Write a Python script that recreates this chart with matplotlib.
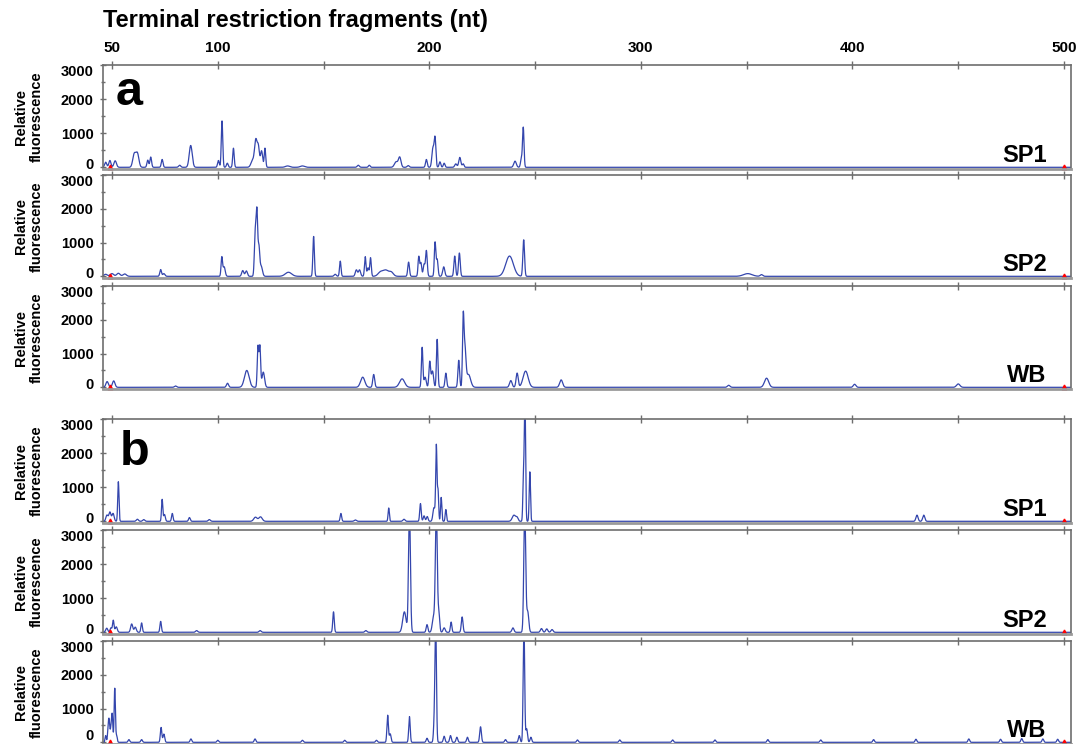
import numpy as np
import matplotlib
matplotlib.use('Agg')
import matplotlib.pyplot as plt
from matplotlib.ticker import MultipleLocator
from matplotlib.transforms import ScaledTranslation

plt.rcParams['font.family'] = ['Liberation Sans', 'DejaVu Sans']
plt.rcParams['font.weight'] = 'bold'

# peaks: position (nt), height (RFU), width (nt)
a_sp1_pos = [47.0, 49.0, 51.5, 60.5, 62.0, 66.9, 68.3, 73.7, 82.0, 87.2,
             100.3, 102.0, 104.5, 107.4, 116.5, 118.0, 119.2, 120.7, 122.3, 133.0,
             140.0, 166.4, 171.6, 184.3, 186.0, 190.0, 198.6, 201.7, 202.7, 205.0,
             207.0, 212.5, 214.4, 216.0, 240.5, 243.5, 244.4]
a_sp1_ht = [150, 200, 190, 380, 400, 210, 300, 230, 60, 640,
            200, 1360, 120, 560, 200, 780, 560, 480, 560, 40,
            40, 60, 60, 160, 290, 50, 230, 560, 830, 160,
            120, 100, 290, 100, 180, 250, 1160]
a_sp1_wd = [0.5, 0.5, 0.6, 0.7, 0.7, 0.4, 0.4, 0.4, 0.5, 0.7,
            0.4, 0.35, 0.4, 0.35, 0.8, 0.6, 0.5, 0.5, 0.35, 1.0,
            1.0, 0.5, 0.4, 0.8, 0.6, 0.5, 0.4, 0.5, 0.4, 0.4,
            0.4, 0.5, 0.5, 0.4, 0.6, 0.4, 0.35]

a_sp2_pos = [47.0, 50.0, 53.0, 56.0, 73.0, 74.5, 101.9, 103.0, 111.8, 113.5,
             117.7, 118.5, 119.4, 120.5, 133.4, 145.3, 155.5, 157.9, 165.5, 167.0,
             169.7, 171.0, 172.2, 177.0, 179.5, 182.0, 190.2, 195.0, 196.0, 197.5,
             198.6, 202.7, 203.7, 206.8, 212.0, 214.2, 237.9, 244.6, 350.5, 357.0]
a_sp2_ht = [60, 80, 90, 70, 200, 80, 560, 280, 170, 160,
            1300, 1800, 850, 300, 120, 1180, 60, 450, 190, 190,
            580, 250, 550, 130, 170, 120, 420, 580, 400, 350,
            760, 1000, 500, 280, 600, 690, 600, 1080, 80, 50]
a_sp2_wd = [0.8, 0.8, 0.8, 0.8, 0.4, 0.5, 0.35, 0.5, 0.5, 0.5,
            0.4, 0.35, 0.4, 0.6, 1.5, 0.35, 0.5, 0.35, 0.5, 0.5,
            0.35, 0.4, 0.35, 1.2, 1.2, 1.0, 0.4, 0.35, 0.4, 0.4,
            0.4, 0.35, 0.4, 0.5, 0.4, 0.4, 1.8, 0.4, 2.0, 0.6]

a_wb_pos = [47.7, 50.8, 80.0, 104.6, 113.7, 119.0, 119.9, 121.5, 168.5, 173.7,
            187.1, 196.6, 198.0, 200.2, 201.5, 203.7, 207.8, 213.9, 216.0, 216.8,
            218.5, 238.5, 241.5, 245.5, 262.3, 341.5, 359.4, 401.0, 450.0]
a_wb_ht = [170, 190, 40, 120, 500, 1200, 1200, 450, 300, 380,
           250, 1180, 300, 760, 480, 1420, 420, 800, 1900, 1100,
           380, 200, 420, 480, 220, 60, 270, 90, 100]
a_wb_wd = [0.6, 0.6, 0.5, 0.5, 1.1, 0.35, 0.35, 0.6, 1.0, 0.45,
           1.2, 0.35, 0.5, 0.4, 0.5, 0.35, 0.4, 0.4, 0.35, 0.5,
           1.0, 0.6, 0.5, 1.2, 0.7, 0.6, 1.0, 0.6, 0.8]

b_sp1_pos = [47.6, 49.0, 50.5, 53.0, 62.0, 65.0, 73.7, 74.8, 78.5, 86.6,
             96.0, 117.8, 120.2, 158.2, 165.0, 180.8, 188.0, 195.8, 197.5, 199.0,
             202.2, 203.3, 204.1, 205.6, 207.8, 240.0, 241.5, 244.5, 245.2, 247.5,
             430.5, 433.7]
b_sp1_ht = [180, 270, 230, 1160, 60, 50, 640, 200, 230, 110,
            50, 120, 130, 230, 40, 390, 60, 520, 160, 140,
            400, 2200, 900, 700, 345, 180, 100, 1300, 3600, 1450,
            180, 180]
b_sp1_wd = [0.5, 0.5, 0.5, 0.3, 0.5, 0.5, 0.3, 0.4, 0.35, 0.4,
            0.5, 0.8, 0.8, 0.35, 0.5, 0.3, 0.5, 0.35, 0.4, 0.4,
            0.5, 0.3, 0.3, 0.3, 0.3, 0.8, 0.5, 0.3, 0.3, 0.3,
            0.5, 0.5]

b_sp2_pos = [47.5, 49.5, 50.6, 52.0, 59.3, 61.0, 64.0, 73.0, 90.0, 120.0,
             154.7, 170.0, 188.2, 190.6, 198.9, 202.0, 203.3, 204.5, 207.0, 210.3,
             215.5, 239.5, 245.1, 246.5, 253.0, 255.5, 258.0]
b_sp2_ht = [120, 130, 350, 160, 245, 150, 275, 320, 50, 50,
            600, 50, 600, 3600, 225, 450, 3600, 550, 130, 300,
            450, 130, 3600, 600, 110, 100, 80]
b_sp2_wd = [0.5, 0.4, 0.35, 0.5, 0.5, 0.5, 0.35, 0.35, 0.5, 0.5,
            0.35, 0.5, 0.8, 0.45, 0.4, 0.6, 0.45, 0.4, 0.5, 0.35,
            0.4, 0.5, 0.45, 0.5, 0.5, 0.5, 0.5]

b_wb_pos = [47.0, 48.2, 48.7, 49.5, 50.1, 51.3, 52.2, 58.0, 64.0, 73.2,
            74.5, 87.3, 100.0, 117.6, 140.0, 160.0, 175.0, 180.3, 181.5, 190.6,
            198.9, 202.3, 203.0, 207.0, 210.0, 213.0, 218.0, 224.2, 236.0, 242.5,
            244.7, 246.0, 248.0, 270.0, 290.0, 315.0, 335.0, 360.0, 385.0, 410.0,
            430.0, 455.0, 470.0, 480.0, 490.0, 497.0]
b_wb_ht = [200, 450, 550, 400, 800, 1600, 200, 80, 80, 440,
           245, 100, 60, 100, 60, 60, 60, 800, 250, 760,
           120, 540, 3600, 180, 200, 150, 150, 460, 80, 200,
           3600, 400, 150, 70, 70, 70, 70, 80, 70, 80,
           90, 100, 90, 110, 100, 90]
b_wb_wd = [0.3, 0.3, 0.3, 0.3, 0.3, 0.3, 0.3, 0.4, 0.4, 0.35,
           0.4, 0.4, 0.4, 0.4, 0.4, 0.4, 0.4, 0.35, 0.4, 0.35,
           0.4, 0.35, 0.35, 0.4, 0.4, 0.4, 0.4, 0.4, 0.4, 0.4,
           0.35, 0.4, 0.4, 0.4, 0.4, 0.4, 0.4, 0.4, 0.4, 0.4,
           0.4, 0.4, 0.4, 0.4, 0.4, 0.4]

sample_names = ['SP1', 'SP2', 'WB', 'SP1', 'SP2', 'WB']
x_ticks = [50, 100, 150, 200, 250, 300, 350, 400, 450, 500]
x_tick_labels = ['50', '100', '', '200', '', '300', '', '400', '', '500']
y_ticks = [0, 1000, 2000, 3000]
std_marks = [49.0, 500.0]

peaks = [(a_sp1_pos, a_sp1_ht, a_sp1_wd), (a_sp2_pos, a_sp2_ht, a_sp2_wd),
         (a_wb_pos, a_wb_ht, a_wb_wd), (b_sp1_pos, b_sp1_ht, b_sp1_wd),
         (b_sp2_pos, b_sp2_ht, b_sp2_wd), (b_wb_pos, b_wb_ht, b_wb_wd)]

x = np.arange(44.0, 504.0, 0.05)


def trace(pos, ht, wd):
    y = np.zeros_like(x)
    for p, h, w in zip(pos, ht, wd):
        y += h * np.exp(-0.5 * ((x - p) / w) ** 2)
    return y


W, H = 1084., 744.
left, right = 102.7, 1071.
tops = [65, 175, 286, 419, 530, 641]
bots = [169, 278, 389, 523, 634, 744]
zero_lift = [3.5, 3.5, 3.5, 3.5, 3.5, 7.5]
blue = '#3446ad'
grey = '#6e6e6e'

fig = plt.figure(figsize=(W / 100, H / 100), dpi=100)

for i in range(6):
    t, b = tops[i], bots[i]
    ax = fig.add_axes([left / W, 1 - b / H, (right - left) / W, (b - t) / H])
    pos, ht, wd = peaks[i]
    ax.plot(x, trace(pos, ht, wd), color=blue, lw=0.9)
    ax.plot(std_marks, [0, 0], '^', color='red', ms=3.5, clip_on=False)
    ax.set_xlim(45.6, 503.3)
    ax.set_ylim(-50, 3000)

    ax.xaxis.tick_top()
    ax.set_xticks(x_ticks)
    if i == 0:
        ax.set_xticklabels(x_tick_labels)
    else:
        ax.set_xticklabels([])
    ax.tick_params(axis='x', direction='inout', length=6, width=1,
                   color=grey, labelsize=11, pad=4)

    ax.set_yticks(y_ticks)
    ax.yaxis.set_minor_locator(MultipleLocator(500))
    ax.tick_params(axis='y', which='major', direction='inout', length=5,
                   width=1, color=grey, labelsize=10.5, pad=4)
    ax.tick_params(axis='y', which='minor', direction='inout', length=3,
                   width=1, color=grey)
    ylabels = ax.get_yticklabels()
    ylabels[-1].set_va('top')
    lift = ScaledTranslation(0, zero_lift[i] / 100, fig.dpi_scale_trans)
    ylabels[0].set_transform(ylabels[0].get_transform() + lift)

    for side in ['left', 'top', 'right']:
        ax.spines[side].set_color(grey)
        ax.spines[side].set_linewidth(1.2)
    ax.spines['bottom'].set_color('#9a9a9a')
    ax.spines['bottom'].set_linewidth(2)

    ax.text(0.975, 0.07, sample_names[i], transform=ax.transAxes,
            ha='right', va='baseline', fontsize=17)

    fig.text(29 / W, 1 - (t + b) / 2 / H, 'Relative\nfluorescence',
             rotation=90, ha='center', va='center', fontsize=10.5,
             multialignment='center', linespacing=1.1)

fig.text(116 / W, 1 - 105 / H, 'a', fontsize=35, ha='left', va='baseline')
fig.text(120 / W, 1 - 465 / H, 'b', fontsize=35, ha='left', va='baseline')
fig.text(103 / W, 1 - 21 / H, 'Terminal restriction fragments (nt)',
         fontsize=17, ha='left', va='center')

fig.savefig('out.png', dpi=100)
